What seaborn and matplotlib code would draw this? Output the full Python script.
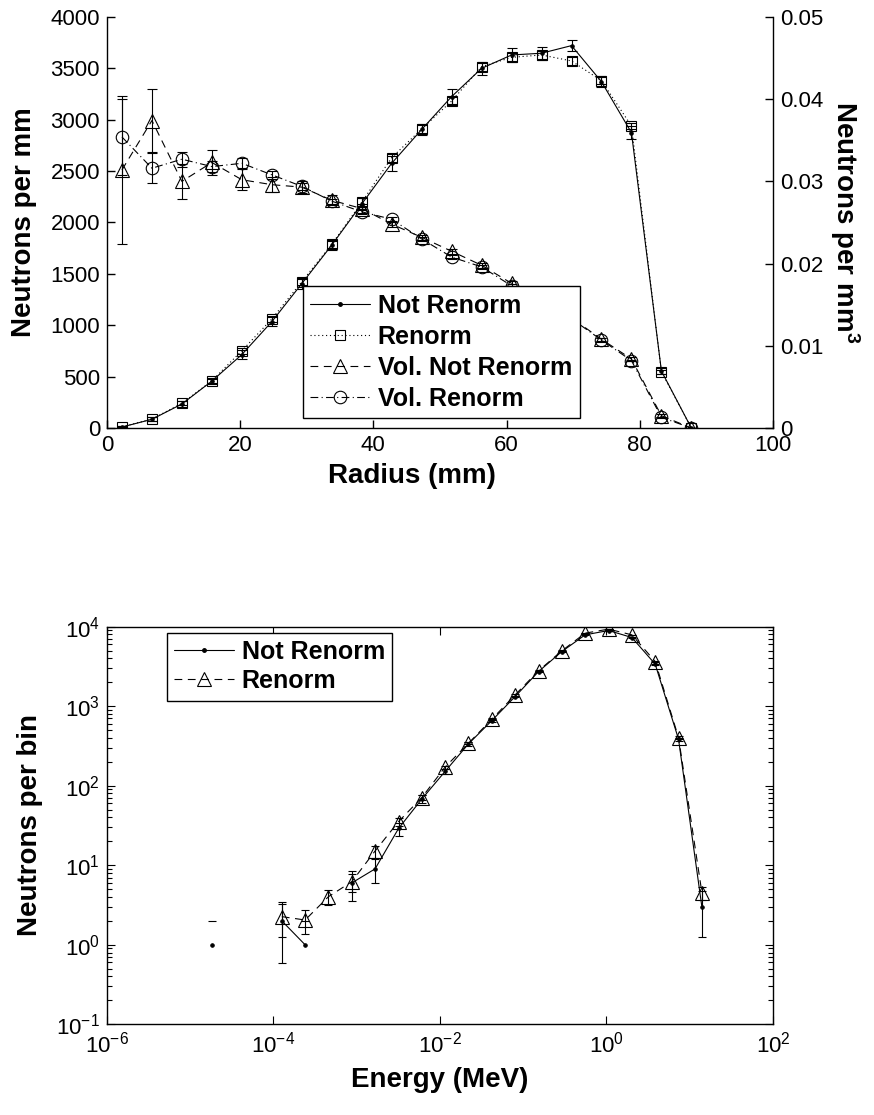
import numpy as np
import pandas as pd
import matplotlib
matplotlib.use("Agg")
import matplotlib.pyplot as plt
from matplotlib.lines import Line2D
from matplotlib.ticker import FuncFormatter, LogLocator, NullLocator, LogFormatterSciNotation
import seaborn as sns

# ---------------- data: top panel (radial profile) ----------------
radius = [2.25, 6.75, 11.25, 15.75, 20.25, 24.75, 29.25, 33.75, 38.25, 42.75,
          47.25, 51.75, 56.25, 60.75, 65.25, 69.75, 74.25, 78.75, 83.25, 87.75]
not_renorm = [10, 85, 234, 457, 715, 1035, 1405, 1780, 2180, 2576,
              2905, 3225, 3500, 3630, 3647, 3721, 3370, 2874, 555, 0]
not_renorm_err = [8, 20, 25, 30, 40, 45, 50, 50, 60, 75,
                  55, 70, 60, 70, 65, 55, 55, 65, 30, 5]
renorm = [12, 88, 240, 460, 752, 1061, 1424, 1788, 2196, 2631,
          2910, 3182, 3516, 3607, 3630, 3572, 3380, 2939, 548, 0]
renorm_err = [6, 15, 20, 22, 28, 30, 32, 35, 38, 40,
              40, 40, 40, 38, 38, 36, 34, 30, 18, 3]
vol_not_renorm = [0.0314, 0.0374, 0.0300, 0.0323, 0.0302, 0.0296, 0.0293, 0.0277, 0.0267, 0.0248,
                  0.0232, 0.0215, 0.0198, 0.0176, 0.0156, 0.0134, 0.0108, 0.0084, 0.0015, 0.0]
vol_not_renorm_err = [0.0090, 0.0038, 0.0021, 0.0015, 0.0013, 0.0009, 0.0007, 0.0006, 0.0005, 0.0004,
                      0.0003, 0.0003, 0.0003, 0.0003, 0.0003, 0.0002, 0.0002, 0.0002, 0.0002, 0.0]
vol_renorm = [0.0354, 0.0316, 0.0327, 0.0318, 0.0322, 0.0308, 0.0294, 0.0276, 0.0263, 0.0254,
              0.0230, 0.0208, 0.0196, 0.0173, 0.0154, 0.0133, 0.0107, 0.0082, 0.0013, 0.0]
vol_renorm_err = [0.0046, 0.0018, 0.0009, 0.0007, 0.0006, 0.0005, 0.0004, 0.0003, 0.0003, 0.0003,
                  0.0002, 0.0002, 0.0002, 0.0002, 0.0002, 0.0002, 0.0002, 0.0001, 0.0001, 0.0]

# ---------------- data: bottom panel (energy spectrum) ----------------
nan = np.nan
energy = [1.82e-5, 3.47e-5, 6.61e-5, 1.26e-4, 2.40e-4, 4.58e-4, 8.73e-4, 1.66e-3, 3.18e-3, 6.05e-3,
          1.15e-2, 2.20e-2, 4.20e-2, 8.00e-2, 0.153, 0.291, 0.555, 1.06, 2.02, 3.85, 7.34, 14.0]
spec_not_renorm = [1, nan, nan, 2, 1, nan, 6, 9, 29, 68,
                   151, 336, 659, 1322, 2728, 4864, 7885, 8936, 7300, 3373, 384, 3]
spec_not_renorm_err_lo = [nan, nan, nan, 1.41, nan, nan, 2.45, 3.0, 5.4, 8.2,
                          12.3, 18.3, 25.7, 36.4, 52.2, 69.8, 88.8, 94.5, 85.4, 58.1, 19.6, 1.73]
spec_not_renorm_err_hi = [1.0, nan, nan, 1.41, 1.0, nan, 2.45, 3.0, 5.4, 8.2,
                          12.3, 18.3, 25.7, 36.4, 52.2, 69.8, 88.8, 94.5, 85.4, 58.1, 19.6, 1.73]
spec_renorm = [nan, nan, nan, 2.26, 2.05, 4.03, 6.22, 15.1, 35.4, 71,
               171, 342, 686, 1387, 2790, 4966, 8280, 9300, 7885, 3640, 403, 4.53]
spec_renorm_err = [nan, nan, nan, 1.0, 0.7, 0.9, 1.6, 2.6, 3.8, 5.5,
                   8, 12, 17, 25, 35, 48, 62, 65, 60, 42, 14, 0.85]

top_legend = ["Not Renorm", "Renorm", "Vol. Not Renorm", "Vol. Renorm"]
bottom_legend = ["Not Renorm", "Renorm"]

# ---------------- style ----------------
sns.set_style("ticks")
plt.rcParams['font.family'] = ['Liberation Sans', 'DejaVu Sans']
plt.rcParams['mathtext.fontset'] = 'custom'
plt.rcParams['mathtext.rm'] = 'Liberation Sans'
plt.rcParams['mathtext.bf'] = 'Liberation Sans:bold'
plt.rcParams['mathtext.it'] = 'Liberation Sans:italic'
plt.rcParams['axes.unicode_minus'] = True
plt.rcParams['xtick.direction'] = 'in'
plt.rcParams['ytick.direction'] = 'in'
for key in ['text.color', 'axes.labelcolor', 'xtick.color', 'ytick.color',
            'xtick.labelcolor', 'ytick.labelcolor', 'axes.edgecolor']:
    plt.rcParams[key] = 'k'

LW = 0.8
TICK_FS = 16
LABEL_FS = 20
LEG_FS = 18

fig = plt.figure(figsize=(8.74, 11.15), dpi=100)


def seg_line(ax, x, y, **kw):
    df = pd.DataFrame({'x': x, 'y': y})
    df['seg'] = df['y'].isna().cumsum()
    df = df.dropna()
    sns.lineplot(data=df, x='x', y='y', units='seg', estimator=None, sort=False,
                 ax=ax, legend=False, **kw)


# ================= TOP PANEL =================
ax = fig.add_axes([0.1224, 0.6161, 0.762, 0.3687])
ax2 = ax.twinx()

sty_nr = dict(color='k', lw=LW, linestyle='-', marker='.', markersize=5,
              markeredgecolor='k', markerfacecolor='k')
sty_r = dict(color='k', lw=LW, linestyle=(0, (1, 2.5)), marker='s', markersize=7,
             markeredgecolor='k', markerfacecolor='none', markeredgewidth=LW)
sty_vnr = dict(color='k', lw=LW, linestyle=(0, (7, 5)), marker='^', markersize=10,
               markeredgecolor='k', markerfacecolor='none', markeredgewidth=LW)
sty_vr = dict(color='k', lw=LW, linestyle=(0, (7, 3, 1, 3)), marker='o', markersize=9,
              markeredgecolor='k', markerfacecolor='none', markeredgewidth=LW)

ekw = dict(fmt='none', ecolor='k', elinewidth=LW, capsize=3.6, capthick=LW)

ax.errorbar(radius, not_renorm, yerr=not_renorm_err, **ekw)
ax.errorbar(radius, renorm, yerr=renorm_err, **ekw)
sns.lineplot(x=radius, y=not_renorm, ax=ax, estimator=None, errorbar=None, legend=False, **sty_nr)
sns.lineplot(x=radius, y=renorm, ax=ax, estimator=None, errorbar=None, legend=False, **sty_r)

ax2.errorbar(radius, vol_not_renorm, yerr=vol_not_renorm_err, **ekw)
ax2.errorbar(radius, vol_renorm, yerr=vol_renorm_err, **ekw)
sns.lineplot(x=radius, y=vol_not_renorm, ax=ax2, estimator=None, errorbar=None, legend=False, **sty_vnr)
sns.lineplot(x=radius, y=vol_renorm, ax=ax2, estimator=None, errorbar=None, legend=False, **sty_vr)

ax.set_xlim(0, 100)
ax.set_ylim(0, 4000)
ax2.set_ylim(0, 0.05)
ax.set_xticks([0, 20, 40, 60, 80, 100])
ax.set_yticks(np.arange(0, 4001, 500))
ax2.set_yticks([0, 0.01, 0.02, 0.03, 0.04, 0.05])
ax2.yaxis.set_major_formatter(FuncFormatter(lambda v, p: "%g" % round(v, 4)))

for a in (ax, ax2):
    for s in a.spines.values():
        s.set_linewidth(1.0)
        s.set_color('k')
    a.spines['top'].set_visible(False)
    a.tick_params(labelsize=TICK_FS, length=6, width=1.0, color='k', pad=5)
ax.spines['right'].set_visible(False)
ax2.spines['left'].set_visible(False)
ax2.spines['bottom'].set_visible(False)
ax.tick_params(axis='y', right=False)
ax.tick_params(axis='x', top=False)

ax.set_xlabel("Radius (mm)", fontsize=LABEL_FS, fontweight='bold')
ax.xaxis.set_label_coords(0.458, -0.085)
ax.set_ylabel("Neutrons per mm", fontsize=LABEL_FS, fontweight='bold')
ax.yaxis.set_label_coords(-0.105, 0.5)
ax2.set_ylabel(r"Neutrons per mm$^\mathbf{3}$", fontsize=LABEL_FS, fontweight='bold',
               rotation=270, va='bottom')
ax2.yaxis.set_label_coords(1.083, 0.5)

handles = [Line2D([], [], **sty_nr), Line2D([], [], **sty_r),
           Line2D([], [], **sty_vnr), Line2D([], [], **sty_vr)]
leg = ax2.legend(handles, top_legend, loc='lower left', bbox_to_anchor=(0.294, 0.024),
                 prop={'weight': 'bold', 'size': LEG_FS}, frameon=True, fancybox=False,
                 framealpha=1, edgecolor='k', borderaxespad=0, handlelength=2.4,
                 handletextpad=0.3, labelspacing=0.28, borderpad=0.3, numpoints=1)
leg.get_frame().set_linewidth(1.0)

# ================= BOTTOM PANEL =================
bx = fig.add_axes([0.1224, 0.0813, 0.762, 0.3567])
bx.set_xscale('log')
bx.set_yscale('log')
bx.set_xlim(1e-6, 1e2)
bx.set_ylim(1e-1, 1e4)

sty_bnr = dict(color='k', lw=LW, linestyle='-', marker='.', markersize=5,
               markeredgecolor='k', markerfacecolor='k')
sty_br = dict(color='k', lw=LW, linestyle=(0, (7, 5)), marker='^', markersize=9.5,
              markeredgecolor='k', markerfacecolor='none', markeredgewidth=LW)

ekw2 = dict(fmt='none', ecolor='k', elinewidth=LW, capsize=2.6, capthick=LW)
bx.errorbar(energy, spec_not_renorm,
            yerr=[spec_not_renorm_err_lo, spec_not_renorm_err_hi], **ekw2)
bx.errorbar(energy, spec_renorm, yerr=spec_renorm_err, **ekw2)

seg_line(bx, energy, spec_not_renorm, **sty_bnr)
seg_line(bx, energy, spec_renorm, **sty_br)

bx.set_xticks([1e-6, 1e-4, 1e-2, 1e0, 1e2])
bx.xaxis.set_minor_locator(NullLocator())
bx.xaxis.set_major_formatter(LogFormatterSciNotation())
bx.yaxis.set_major_locator(LogLocator(base=10, numticks=10))
bx.yaxis.set_minor_locator(LogLocator(base=10, subs=np.arange(2, 10), numticks=10))
for s in bx.spines.values():
    s.set_linewidth(1.0)
    s.set_color('k')
bx.tick_params(which='both', top=True, right=True, color='k', width=0.8)
bx.tick_params(which='major', length=6, labelsize=TICK_FS, pad=5)
bx.tick_params(which='minor', length=3.5)
bx.set_xlim(1e-6, 1e2)
bx.set_ylim(1e-1, 1e4)

bx.set_xlabel("Energy (MeV)", fontsize=LABEL_FS, fontweight='bold')
bx.xaxis.set_label_coords(0.5, -0.108)
bx.set_ylabel("Neutrons per bin", fontsize=LABEL_FS, fontweight='bold')
bx.yaxis.set_label_coords(-0.096, 0.5)

bhandles = [Line2D([], [], **sty_bnr), Line2D([], [], **sty_br)]
leg2 = bx.legend(bhandles, bottom_legend, loc='upper left', bbox_to_anchor=(0.0896, 0.985),
                 prop={'weight': 'bold', 'size': LEG_FS}, frameon=True, fancybox=False,
                 framealpha=1, edgecolor='k', borderaxespad=0, handlelength=2.4,
                 handletextpad=0.3, labelspacing=0.2, borderpad=0.3, numpoints=1)
leg2.get_frame().set_linewidth(1.0)

fig.savefig("out.png", dpi=100)
